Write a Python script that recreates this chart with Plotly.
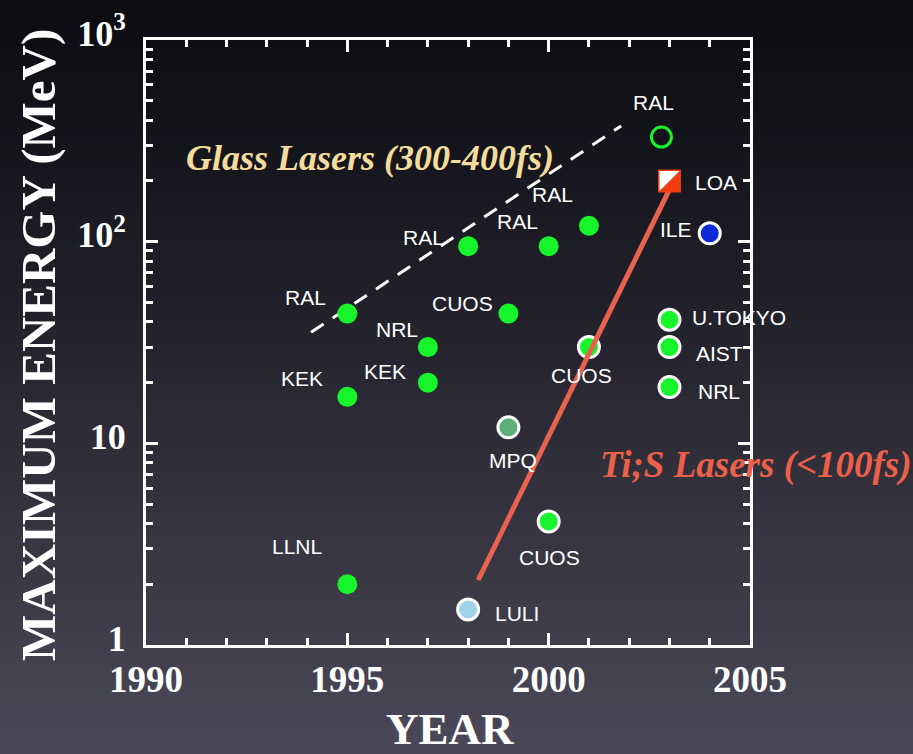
import numpy as np
import plotly.graph_objects as go

# ---------------- data ----------------
# Glass-laser experiments (plain bright-green dots)
glass_years = [1995, 1995, 1995, 1997, 1997, 1998, 1999, 2000, 2001]
glass_mev = [44, 17, 2.0, 30, 20, 95, 44, 95, 120]
glass_labels = ["RAL", "KEK", "LLNL", "NRL", "KEK", "RAL", "CUOS", "RAL", "RAL"]

# Short-pulse experiments with white rim (green)
ti_green_years = [2001, 2000, 2003, 2003, 2003]
ti_green_mev = [30, 4.1, 41, 30, 19]
ti_green_labels = ["CUOS", "CUOS", "U.TOKYO", "AIST", "NRL"]

# Individually coloured points
mpq_year, mpq_mev = [1999], [12]
luli_year, luli_mev = [1998], [1.5]
ile_year, ile_mev = [2004], [110]
ral_open_year, ral_open_mev = [2002.8], [330]
loa_year, loa_mev = [2003], [200]

# Trend lines
glass_trend_years = [1994.1, 2001.8]
glass_trend_mev = [35.5, 375]
ti_trend_years = [1998.25, 2003.05]
ti_trend_mev = [2.1, 190]

# axis ticks
y_tickvals = [1, 10, 100, 1000]
y_ticktext = ["1", "10", "10<sup>2</sup>", "10<sup>3</sup>"]
x_tickvals = [1990, 1995, 2000, 2005]
x_ticktext = ["1990", "1995", "2000", "2005"]

# label offsets (pixels) – styling
glass_shift = [(-42, 16), (-45, 18), (-50, 38), (-31, 18), (-43, 11), (-45, 9), (-46, 10), (-31, 25), (-36, 31)]
ti_green_shift = [(-7, -28), (1, -36), (70, 2), (50, -6), (50, -4)]

W, H = 913, 754
L, R, T, B = 146, 163, 40, 109

GREEN = "#17F42B"
SANS = "Liberation Sans, Arial, sans-serif"
SERIF = "Liberation Serif, Times New Roman, serif"

fig = go.Figure()

# background gradient
n_bands = 80
top = np.array([13, 13, 19])
bot = np.array([76, 74, 90])
pw, ph = W - L - R, H - T - B
for i in range(n_bands):
    f0 = i / n_bands
    f1 = (i + 1) / n_bands
    fm = (f0 + f1) / 2
    c = top + (bot - top) * fm ** 1.2
    py0 = f0 * H - (2 if i == 0 else 0)
    py1 = f1 * H + 1 + (4 if i == n_bands - 1 else 0)
    fig.add_shape(type="rect", xref="paper", yref="paper",
                  x0=-L / pw - 0.05, x1=(W - L) / pw + 0.05,
                  y0=(H - B - py1) / ph, y1=(H - B - py0) / ph,
                  fillcolor="rgb(%d,%d,%d)" % tuple(c.astype(int)),
                  line=dict(width=0), layer="below")

# trend lines
fig.add_trace(go.Scatter(x=glass_trend_years, y=glass_trend_mev, mode="lines",
                         line=dict(color="white", width=3, dash="15px,11px"),
                         hoverinfo="skip", showlegend=False))

# glass points
fig.add_trace(go.Scatter(x=glass_years, y=glass_mev, mode="markers",
                         marker=dict(size=20, color=GREEN, line=dict(width=0)),
                         showlegend=False))

# rimmed green points
fig.add_trace(go.Scatter(x=ti_green_years, y=ti_green_mev, mode="markers",
                         marker=dict(size=21, color=GREEN, line=dict(width=3, color="white")),
                         showlegend=False))
fig.add_trace(go.Scatter(x=mpq_year, y=mpq_mev, mode="markers",
                         marker=dict(size=21, color="#5EAE7A", line=dict(width=3, color="white")),
                         showlegend=False))
fig.add_trace(go.Scatter(x=luli_year, y=luli_mev, mode="markers",
                         marker=dict(size=21, color="#9CD3EA", line=dict(width=3, color="white")),
                         showlegend=False))
fig.add_trace(go.Scatter(x=ile_year, y=ile_mev, mode="markers",
                         marker=dict(size=21, color="#0B2AD8", line=dict(width=3, color="white")),
                         showlegend=False))
fig.add_trace(go.Scatter(x=ral_open_year, y=ral_open_mev, mode="markers",
                         marker=dict(size=20, symbol="circle-open", color=GREEN, line=dict(width=3, color=GREEN)),
                         showlegend=False))

fig.add_trace(go.Scatter(x=ti_trend_years, y=ti_trend_mev, mode="lines",
                         line=dict(color="#E8624E", width=5),
                         hoverinfo="skip", showlegend=False))

# LOA split square: red square marker + white upper-left half drawn in pixels around the point
fig.add_trace(go.Scatter(x=loa_year, y=loa_mev, mode="markers",
                         marker=dict(size=21, symbol="square", color="#F23C10", line=dict(width=2, color="#F23C10")),
                         showlegend=False))
fig.add_shape(type="path", xref="x", yref="y", xsizemode="pixel", ysizemode="pixel",
              xanchor=loa_year[0], yanchor=loa_mev[0],
              path="M -10 10 L 10 10 L -10 -10 Z", fillcolor="white", line=dict(width=0), layer="above")

# point labels
ann = []
def lab(x, y, t, s):
    ann.append(dict(x=x, y=np.log10(y), text=t, showarrow=False,
                    xshift=s[0], yshift=s[1], xanchor="center", yanchor="middle",
                    font=dict(family=SANS, size=21, color="white")))

for x, y, t, s in zip(glass_years, glass_mev, glass_labels, glass_shift):
    lab(x, y, t, s)
for x, y, t, s in zip(ti_green_years, ti_green_mev, ti_green_labels, ti_green_shift):
    lab(x, y, t, s)
lab(mpq_year[0], mpq_mev[0], "MPQ", (5, -33))
lab(luli_year[0], luli_mev[0], "LULI", (49, -4))
lab(ile_year[0], ile_mev[0], "ILE", (-34, 4))
lab(ral_open_year[0], ral_open_mev[0], "RAL", (-8, 35))
lab(loa_year[0], loa_mev[0], "LOA", (47, -2))

# group titles
ann.append(dict(x=1995.56, y=2.414, text="<i>Glass Lasers (300-400fs)</i>", showarrow=False,
                xanchor="center", yanchor="middle",
                font=dict(family=SERIF, size=36, color="#F3DC9C", weight="bold")))
ann.append(dict(xref="paper", yref="paper", x=(756 - L) / pw, y=(H - B - 465) / ph,
                text="<i>Ti;S Lasers (&lt;100fs)</i>", showarrow=False,
                xanchor="center", yanchor="middle",
                font=dict(family=SERIF, size=37, color="#EC604A", weight="bold")))

# axis titles
ann.append(dict(xref="paper", yref="paper", x=(450 - L) / pw, y=(H - B - 729) / ph,
                text="YEAR", showarrow=False, xanchor="center", yanchor="middle",
                font=dict(family=SERIF, size=45, color="white", weight="bold")))
ann.append(dict(xref="paper", yref="paper", x=(38 - L) / pw, y=(H - B - 345) / ph,
                text="MAXIMUM ENERGY (MeV)", showarrow=False, textangle=-90,
                xanchor="center", yanchor="middle",
                font=dict(family=SERIF, size=49, color="white", weight="bold")))

fig.update_layout(
    width=W, height=H,
    margin=dict(l=L, r=R, t=T, b=B, pad=0, autoexpand=False),
    paper_bgcolor="rgb(40,40,50)",
    plot_bgcolor="rgba(0,0,0,0)",
    annotations=ann,
    showlegend=False,
)

fig.update_xaxes(
    range=[1990, 2005], showgrid=False, zeroline=False, automargin=False,
    showline=True, linecolor="white", linewidth=3, mirror="ticks",
    ticks="inside", ticklen=12, tickwidth=3, tickcolor="white",
    tickvals=x_tickvals, ticktext=x_ticktext,
    tickfont=dict(family=SERIF, size=37, color="white", weight="bold"),
    ticklabelstandoff=0,
    minor=dict(ticks="inside", ticklen=7, tickwidth=3, tickcolor="white", dtick=1, showgrid=False),
)
fig.update_yaxes(
    type="log", range=[0, 3], showgrid=False, zeroline=False, automargin=False,
    showline=True, linecolor="white", linewidth=3, mirror="ticks",
    ticks="inside", ticklen=12, tickwidth=3, tickcolor="white",
    tickvals=y_tickvals, ticktext=y_ticktext,
    tickfont=dict(family=SERIF, size=36, color="white", weight="bold"),
    ticklabelstandoff=10, ticklabelshift=-7,
    minor=dict(ticks="inside", ticklen=7, tickwidth=3, tickcolor="white", dtick="D1", showgrid=False),
)

fig.write_html("out.html", config={"displayModeBar": False},
               post_script="document.body.style.margin='0';document.body.style.background='rgb(13,13,19)';")
